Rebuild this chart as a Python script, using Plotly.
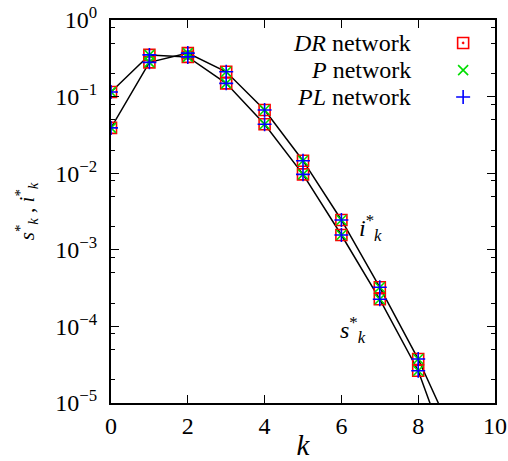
import math
import plotly.graph_objects as go

k_pts = [0, 1, 2, 3, 4, 5, 6, 7, 8]
k_line = [0, 1, 2, 3, 4, 5, 6, 7, 8, 9]
s_star = [0.115, 0.35, 0.33, 0.149, 0.0435, 0.00966, 0.00156, 2.26e-4, 2.64e-5, 1.1e-6]
i_star = [0.039, 0.28, 0.37, 0.211, 0.0668, 0.01456, 0.00245, 3.24e-4, 3.75e-5, 3.0e-6]

networks = ["DR", "P", "PL"]
net_colors = ["#ff0000", "#00dd00", "#0000ff"]
net_symbols = ["square-open-dot", "x-thin-open", "cross-thin-open"]
net_sizes = [11, 10, 10]

y_tickvals = [1, 0.1, 0.01, 0.001, 1e-4, 1e-5]
y_ticktext = ["10<sup>0</sup>", "10<sup>−1</sup>", "10<sup>−2</sup>",
              "10<sup>−3</sup>", "10<sup>−4</sup>", "10<sup>−5</sup>"]
x_tickvals = [0, 2, 4, 6, 8, 10]

FONT = "Liberation Serif, serif"
FS = 24

fig = go.Figure()
for series in (s_star, i_star):
    fig.add_trace(go.Scatter(x=k_line, y=series, mode="lines",
                             line=dict(color="black", width=1.5),
                             showlegend=False, hoverinfo="skip"))

for name, col, sym, sz in zip(networks, net_colors, net_symbols, net_sizes):
    for series in (s_star, i_star):
        fig.add_trace(go.Scatter(
            x=k_pts, y=series[:len(k_pts)], mode="markers",
            marker=dict(symbol=sym, size=sz, color=col,
                        line=dict(color=col, width=1.6)),
            showlegend=False))

# legend (text right-aligned, marker to its right)
leg_y = [0.94, 0.869, 0.799]
for name, col, sym, sz, yy in zip(networks, net_colors, net_symbols, net_sizes, leg_y):
    fig.add_trace(go.Scatter(
        x=[0.917], y=[yy], xaxis="x2", yaxis="y2", mode="markers",
        marker=dict(symbol=sym, size=sz, color=col, line=dict(color=col, width=1.6)),
        showlegend=False, hoverinfo="skip"))
    fig.add_annotation(x=0.786, y=yy, xref="paper", yref="paper",
                       text=f"<i>{name}</i> network", showarrow=False,
                       xanchor="right", yanchor="middle",
                       font=dict(family=FONT, size=FS, color="black"))

fig.add_annotation(x=6.77, y=math.log10(0.0019), xref="x", yref="y",
                   text="<i>i</i><sup>*</sup><sub><i>k</i></sub>", showarrow=False,
                   font=dict(family=FONT, size=FS, color="black"))
fig.add_annotation(x=6.3, y=math.log10(0.00009), xref="x", yref="y",
                   text="<i>s</i><sup>*</sup><sub><i>k</i></sub>", showarrow=False,
                   font=dict(family=FONT, size=FS, color="black"))

fig.update_layout(
    width=508, height=461,
    margin=dict(l=111, r=13, t=20, b=58),
    paper_bgcolor="white", plot_bgcolor="white",
    font=dict(family=FONT, size=FS, color="black"),
    xaxis=dict(range=[0, 10], tickvals=x_tickvals, ticks="inside", ticklen=8,
               tickwidth=1.2, tickcolor="black", mirror="ticks", showline=True,
               linecolor="black", linewidth=2, showgrid=False, zeroline=False,
               automargin=False, ticklabeloverflow="allow",
               title=dict(text="<i>k</i>", standoff=0),
               tickfont=dict(family=FONT, size=FS)),
    yaxis=dict(type="log", range=[-5, 0], tickvals=y_tickvals, ticktext=y_ticktext,
               ticks="inside", ticklen=8, tickwidth=1.2, tickcolor="black",
               mirror="ticks", showline=True, linecolor="black", linewidth=2,
               showgrid=False, zeroline=False, automargin=False,
               ticklabeloverflow="allow", ticklabelstandoff=7,
               minor=dict(ticks="inside", ticklen=4, tickcolor="black", tickwidth=1.2,
                          tickvals=[m * 10**e for e in range(-5, 0) for m in (2, 5, 8)],
                          showgrid=False),
               title=dict(text="<i>s</i><sup>*</sup><sub><i>k</i></sub> , <i>i</i><sup>*</sup><sub><i>k</i></sub>",
                          font=dict(family=FONT, size=21)),
               tickfont=dict(family=FONT, size=FS)),
    xaxis2=dict(range=[0, 1], overlaying="x", visible=False, fixedrange=True),
    yaxis2=dict(range=[0, 1], overlaying="y", visible=False, fixedrange=True),
)

fig.write_html("out.html", config={"displayModeBar": False},
               post_script="document.body.style.margin='0';document.body.style.overflow='hidden';")
